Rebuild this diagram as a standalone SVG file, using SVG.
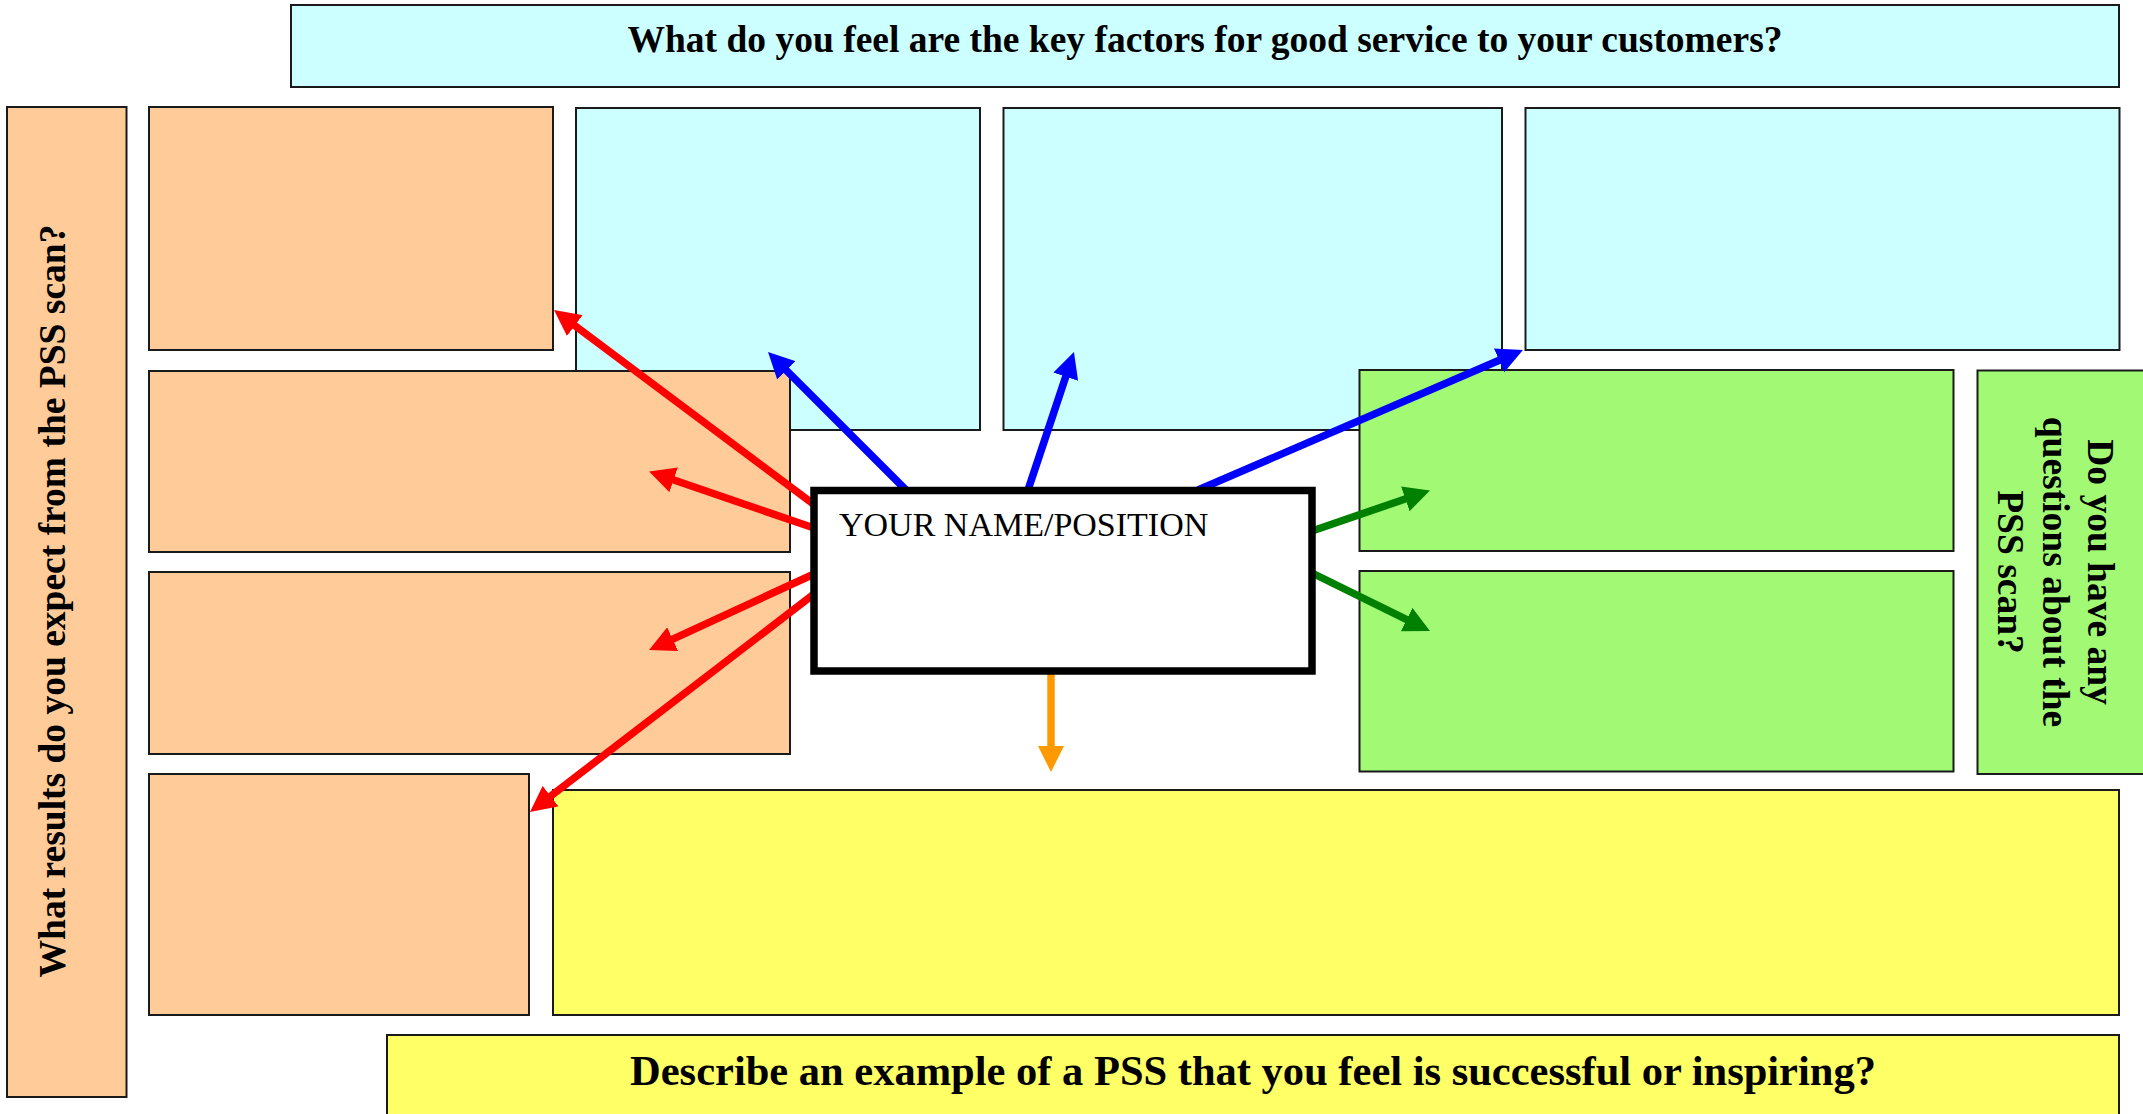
<svg xmlns="http://www.w3.org/2000/svg" width="2143" height="1114" viewBox="0 0 2143 1114">
  <style>
    .box { stroke: #1a1a1a; stroke-width: 2; }
    .peach { fill: #FFCC99; }
    .cyan { fill: #CCFFFF; }
    .green { fill: #A2FA74; }
    .yellow { fill: #FFFF66; }
    .q { font-family: "Liberation Serif", "Times New Roman", serif; font-weight: bold; font-size: 37.5px; fill: #000; }
    .conn { fill: none; stroke-width: 7.5; stroke-linecap: butt; }
    .red { stroke: #FF0000; marker-end: url(#ah-red); }
    .blue { stroke: #0000FF; marker-end: url(#ah-blue); }
    .dkgreen { stroke: #008000; marker-end: url(#ah-green); }
    .orange { stroke: #FF9900; marker-end: url(#ah-orange); }
  </style>
  <defs>
    <marker id="ah-red" viewBox="0 0 26 26" refX="16" refY="13" markerWidth="26" markerHeight="26" markerUnits="userSpaceOnUse" orient="auto">
      <path d="M0,0 L26,13 L0,26 z" fill="#FF0000"/>
    </marker>
    <marker id="ah-blue" viewBox="0 0 26 26" refX="16" refY="13" markerWidth="26" markerHeight="26" markerUnits="userSpaceOnUse" orient="auto">
      <path d="M0,0 L26,13 L0,26 z" fill="#0000FF"/>
    </marker>
    <marker id="ah-green" viewBox="0 0 26 26" refX="16" refY="13" markerWidth="26" markerHeight="26" markerUnits="userSpaceOnUse" orient="auto">
      <path d="M0,0 L26,13 L0,26 z" fill="#008000"/>
    </marker>
    <marker id="ah-orange" viewBox="0 0 26 26" refX="16" refY="13" markerWidth="26" markerHeight="26" markerUnits="userSpaceOnUse" orient="auto">
      <path d="M0,0 L26,13 L0,26 z" fill="#FF9900"/>
    </marker>
  </defs>

  <rect width="2143" height="1114" fill="#FFFFFF"/>

  <!-- question banners -->
  <g id="q-key-factors">
    <rect class="box cyan" x="291" y="5" width="1828" height="82"/>
    <text class="q" x="1205" y="52" text-anchor="middle">What do you feel are the key factors for good service to your customers?</text>
  </g>
  <g id="q-results">
    <rect class="box peach" x="7" y="107" width="119.5" height="990"/>
    <text class="q" transform="translate(65,601) rotate(-90)" text-anchor="middle">What results do you expect from the PSS scan?</text>
  </g>
  <g id="q-questions">
    <rect class="box green" x="1977.5" y="370.5" width="180" height="403.5"/>
    <g class="q" transform="translate(2060,572) rotate(90)" text-anchor="middle">
      <text x="0" y="-28">Do you have any</text>
      <text x="0" y="17">questions about the</text>
      <text x="0" y="62">PSS scan?</text>
    </g>
  </g>
  <g id="q-example">
    <rect class="box yellow" x="387" y="1035" width="1732" height="90"/>
    <text class="q" x="1253" y="1085" text-anchor="middle" style="font-size:42.5px">Describe an example of a PSS that you feel is successful or inspiring?</text>
  </g>

  <!-- answer areas: key factors -->
  <g id="cyan-1"><rect class="box cyan" x="576" y="108" width="404" height="322"/></g>
  <g id="cyan-2"><rect class="box cyan" x="1003.5" y="108" width="498.5" height="322"/></g>
  <g id="cyan-3"><rect class="box cyan" x="1525.5" y="108" width="594" height="242"/></g>

  <!-- answer areas: expected results -->
  <g id="peach-1"><rect class="box peach" x="149" y="107" width="404" height="243"/></g>
  <g id="peach-2"><rect class="box peach" x="149" y="371" width="641" height="181"/></g>
  <g id="peach-3"><rect class="box peach" x="149" y="572" width="641" height="182"/></g>
  <g id="peach-4"><rect class="box peach" x="149" y="774" width="380" height="241"/></g>

  <!-- answer areas: questions -->
  <g id="green-1"><rect class="box green" x="1359.5" y="370" width="594" height="181"/></g>
  <g id="green-2"><rect class="box green" x="1359.5" y="571" width="594" height="200.5"/></g>

  <!-- answer area: example -->
  <g id="yellow-1"><rect class="box yellow" x="553" y="790" width="1566" height="225"/></g>

  <!-- arrows from the centre card -->
  <g id="connectors">
    <line class="conn red" x1="814" y1="504.5" x2="562" y2="316"/>
    <line class="conn red" x1="814" y1="528" x2="658.5" y2="474.7"/>
    <line class="conn red" x1="814" y1="574" x2="658.1" y2="645.8"/>
    <line class="conn red" x1="814" y1="594" x2="537.9" y2="805.9"/>
    <line class="conn blue" x1="906" y1="490" x2="775.1" y2="359.1"/>
    <line class="conn blue" x1="1028" y1="490" x2="1070.8" y2="361.5"/>
    <line class="conn blue" x1="1198" y1="490" x2="1513.8" y2="354"/>
    <line class="conn dkgreen" x1="1312" y1="531" x2="1420.5" y2="493.7"/>
    <line class="conn dkgreen" x1="1312" y1="573" x2="1421" y2="626.6"/>
    <line class="conn orange" x1="1051" y1="671" x2="1051" y2="762"/>
  </g>

  <!-- centre card -->
  <g id="name-card">
    <rect x="814" y="490.5" width="498" height="180.5" fill="#FFFFFF" stroke="#000" stroke-width="7.5"/>
    <text x="839" y="536" font-family="'Liberation Serif', 'Times New Roman', serif" font-size="34" fill="#000">YOUR NAME/POSITION</text>
  </g>
</svg>
